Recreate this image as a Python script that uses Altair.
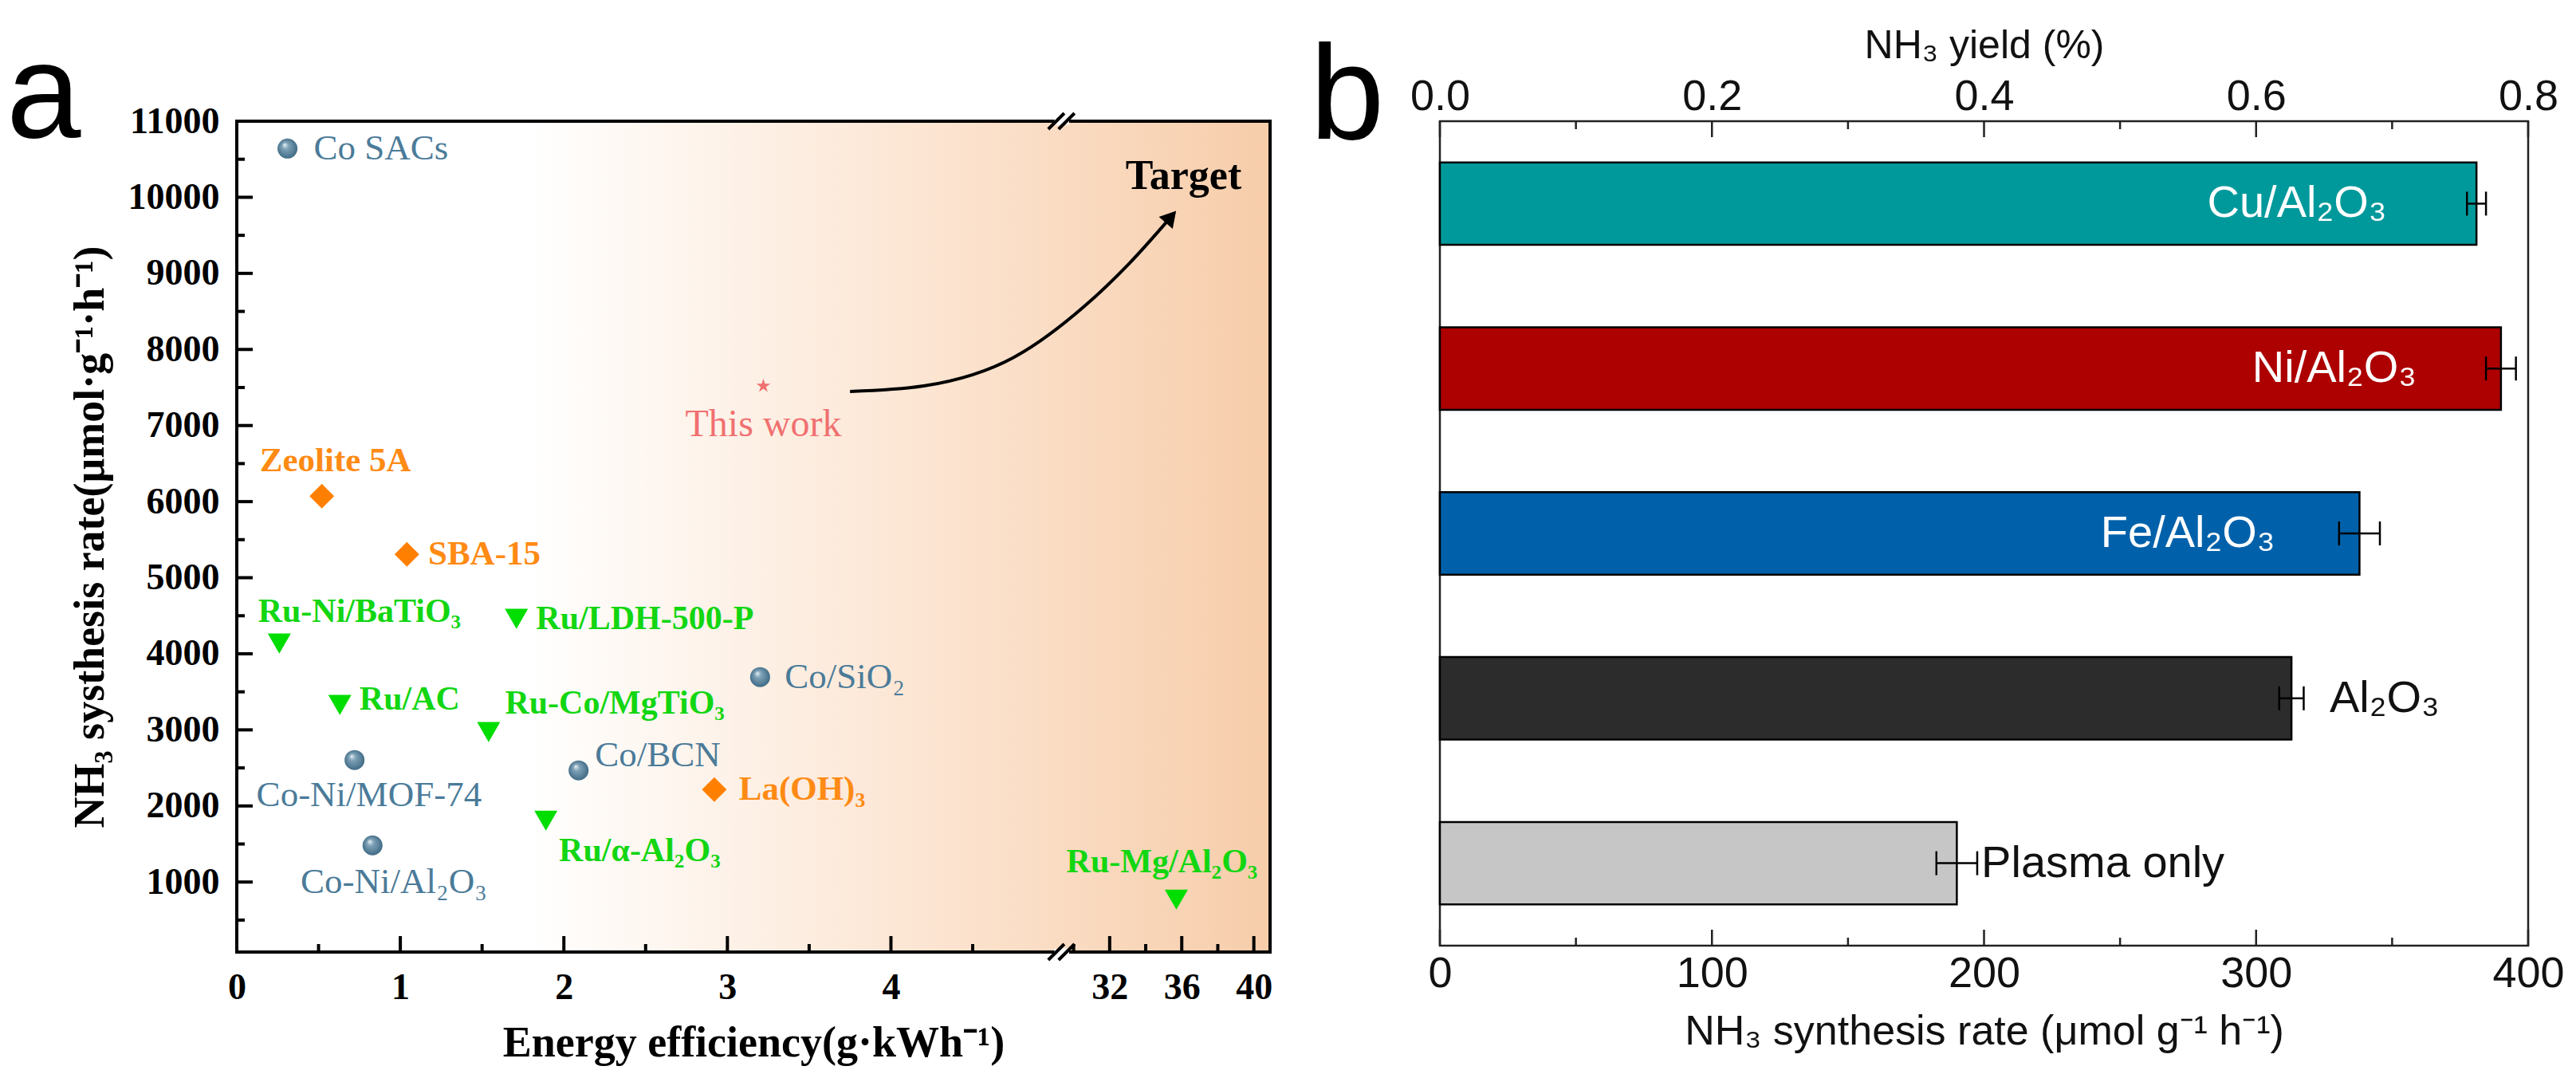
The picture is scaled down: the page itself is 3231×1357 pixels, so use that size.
import altair as alt
import pandas as pd

SERIF = "Liberation Serif"
SANS = "Liberation Sans"

# ---------------- Panel a: literature comparison ----------------
co_names = ["Co SACs", "Co-Ni/MOF-74", "Co-Ni/Al₂O₃", "Co/BCN", "Co/SiO₂"]
co_x = [0.31, 0.72, 0.83, 2.09, 3.20]
co_y = [10640, 2604, 1482, 2468, 3694]
co_label_x = [0.47, 0.12, 0.39, 2.19, 3.35]
co_label_y = [10640, 2143, 1000, 2667, 3694]

or_names = ["Zeolite 5A", "SBA-15", "La(OH)₃"]
or_x = [0.52, 1.04, 2.92]
or_y = [6073, 5308, 2216]
or_label_x = [0.14, 1.17, 3.07]
or_label_y = [6535, 5308, 2216]

ru_names = ["Ru-Ni/BaTiO₃", "Ru/LDH-500-P", "Ru/AC", "Ru-Co/MgTiO₃", "Ru/α-Al₂O₃", "Ru-Mg/Al₂O₃"]
ru_x = [0.26, 1.71, 0.63, 1.54, 1.89, 35.7]
ru_y = [4134, 4459, 3327, 2971, 1807, 769]
ru_label_x = [0.13, 1.83, 0.75, 1.64, 1.97, 29.6]
ru_label_y = [4553, 4459, 3400, 3348, 1409, 1262]

this_name = ["This work"]
this_x = [3.22]
this_y = [7520]
this_label_y = [7006]

target_text = ["Target"]
target_x = [36.1]
target_y = [10277]

arrow_x = [3.75, 4.20, 4.77, 30.6, 33.1, 35.4]
arrow_y = [7447, 7520, 7918, 8568, 9134, 9742]

# broken x axis: 0-5.04, then 29.3-40.9 compressed by BRK_K
BRK_L, BRK_R, X_END, BRK_K = 5.04, 29.3, 40.9, 0.1102
Y_MIN, Y_MAX = 80, 11000
A_W, A_H = 1296, 1042
a_x_major = [0, 1, 2, 3, 4, 32, 36, 40]
a_x_minor = [0.5, 1.5, 2.5, 3.5, 4.5, 30, 34, 38]
a_y_major = [1000 * i for i in range(1, 12)]
a_y_minor = [500 + 1000 * i for i in range(0, 11)]

break_x_start = [4.962, 5.025]
break_x_end = [29.48, 30.05]
break_lo_bottom, break_hi_bottom = -25, 185
break_lo_top, break_hi_top = 10895, 11105
gap_x = [5.0]
gap_x2 = [29.75]

# ---------------- Panel b: catalysts ----------------
bar_names = ["Cu/Al₂O₃", "Ni/Al₂O₃", "Fe/Al₂O₃", "Al₂O₃", "Plasma only"]
bar_rate = [381, 390, 338, 313, 190]
bar_err = [3.5, 5.5, 7.5, 4.5, 7.5]
bar_colors = ["#00999B", "#AD0000", "#0061AA", "#2C2C2C", "#C6C6C6"]
bar_label_x = [348, 359, 307, 327, 199]
bar_label_inside = [True, True, True, False, False]
B_W, B_H = 1365, 1034
b_major = [0, 100, 200, 300, 400]
b_minor = [50, 150, 250, 350]

MAJ, MIN = 20, 10  # inward tick lengths (px)
GAP = 213          # space between the two plot areas (px)
STAR = ("M0,-1L0.2245,-0.309L0.9511,-0.309L0.3633,0.118L0.5878,0.809L0,0.382"
        "L-0.5878,0.809L-0.3633,0.118L-0.9511,-0.309L-0.2245,-0.309Z")


def brk(v):
    return v if v <= BRK_L else BRK_L + (v - BRK_R) * BRK_K


def brk_expr(field):
    return f"datum.{field} <= {BRK_L} ? datum.{field} : {BRK_L} + (datum.{field} - {BRK_R}) * {BRK_K}"


X_DOM = [0, brk(X_END)]
inv_label = (f"datum.value <= {BRK_L + 1e-6} ? format(datum.value, 'd') : "
             f"format(round({BRK_R} + (datum.value - {BRK_L}) / {BRK_K}), 'd')")
Y_PER_PX = (Y_MAX - Y_MIN) / A_H

# ---------------- scales & axes ----------------
xs_a = alt.Scale(domain=X_DOM, nice=False, zero=False)
ys_a = alt.Scale(domain=[Y_MIN, Y_MAX], nice=False, zero=False)

x_axis_a = alt.Axis(
    orient="bottom", values=[brk(v) for v in a_x_major], labelExpr=inv_label,
    ticks=False, tickSize=0, domain=False, grid=False, labelOverlap=False, labelFlush=False,
    labelFont=SERIF, labelFontSize=46, labelFontWeight="bold", labelColor="black",
    labelPadding=22,
    title="Energy efficiency(g·kWh⁻¹)", titleFont=SERIF, titleFontSize=54,
    titleFontWeight="bold", titleColor="black", titlePadding=20,
)
y_axis_a = alt.Axis(
    orient="left", values=a_y_major, format="d",
    ticks=False, tickSize=0, domain=False, grid=False, labelOverlap=False, labelFlush=False,
    labelFont=SERIF, labelFontSize=46, labelFontWeight="bold", labelColor="black",
    labelPadding=22,
    title="NH₃ systhesis rate(μmol·g⁻¹·h⁻¹)", titleFont=SERIF, titleFontSize=54,
    titleFontWeight="bold", titleColor="black", titlePadding=20,
)


def base(df, xf, yf, xaxis=None, yaxis=None, x2f=None):
    ch = alt.Chart(df).transform_calculate(px=brk_expr(xf))
    enc = {
        "x": alt.X("px:Q", scale=xs_a, axis=xaxis),
        "y": alt.Y(f"{yf}:Q", scale=ys_a, axis=yaxis),
    }
    if x2f is not None:
        ch = ch.transform_calculate(px2=brk_expr(x2f))
        enc["x2"] = "px2:Q"
    return ch, enc


one = pd.DataFrame({"k": [0]})
bg_grad = alt.LinearGradient(
    gradient="linear", x1=0, x2=1, y1=0, y2=0,
    stops=[alt.GradientStop(offset=0, color="#FFFFFF"),
           alt.GradientStop(offset=0.28, color="#FFFFFF"),
           alt.GradientStop(offset=0.65, color="#FCE6D4"),
           alt.GradientStop(offset=1, color="#F7CDAA")],
)
sphere_fill = alt.RadialGradient(
    gradient="radial", x1=0.35, y1=0.3, r1=0, x2=0.5, y2=0.5, r2=0.55,
    stops=[alt.GradientStop(offset=0, color="#EEF4F7"),
           alt.GradientStop(offset=0.3, color="#7FA3B8"),
           alt.GradientStop(offset=1, color="#3A6580")],
)


def full_rect(**mark):
    return alt.Chart(one).mark_rect(**mark).encode(
        x=alt.datum(X_DOM[0], scale=xs_a, axis=None), x2=alt.datum(X_DOM[1]),
        y=alt.datum(Y_MIN, scale=ys_a, axis=None), y2=alt.datum(Y_MAX))


bg = full_rect(fill=bg_grad)
frame_a = full_rect(fillOpacity=0, stroke="black", strokeWidth=4)

co_df = pd.DataFrame({"n": co_names, "x": co_x, "y": co_y, "lx": co_label_x, "ly": co_label_y})
or_df = pd.DataFrame({"n": or_names, "x": or_x, "y": or_y, "lx": or_label_x, "ly": or_label_y})
ru_df = pd.DataFrame({"n": ru_names, "x": ru_x, "y": ru_y, "lx": ru_label_x, "ly": ru_label_y})
tw_df = pd.DataFrame({"n": this_name, "x": this_x, "y": this_y, "ly": this_label_y})
tg_df = pd.DataFrame({"n": target_text, "x": target_x, "y": target_y})
ar_df = pd.DataFrame({"i": list(range(len(arrow_x))), "x": arrow_x, "y": arrow_y})
ah_df = ar_df.tail(1).reset_index(drop=True)

# inward ticks, positioned through the scales
ytick_df = pd.DataFrame({"v": a_y_major + a_y_minor,
                         "len": [MAJ] * len(a_y_major) + [MIN] * len(a_y_minor)})
ytick_df["x0"] = 0.0
ytick_df["x1"] = ytick_df["len"] * X_DOM[1] / A_W
yticks_a = alt.Chart(ytick_df).mark_rule(color="black", strokeWidth=4).encode(
    x=alt.X("x0:Q", scale=xs_a, axis=None), x2="x1:Q",
    y=alt.Y("v:Q", scale=ys_a, axis=None))
xtick_df = pd.DataFrame({"v": a_x_major + a_x_minor,
                         "len": [MAJ] * len(a_x_major) + [MIN] * len(a_x_minor)})
xtick_df["y0"] = Y_MIN
xtick_df["y1"] = Y_MIN + xtick_df["len"] * Y_PER_PX
ch, enc = base(xtick_df, "v", "y0")
xticks_a = ch.mark_rule(color="black", strokeWidth=4).encode(y2="y1:Q", **enc)

ch, enc = base(co_df, "x", "y", x_axis_a, y_axis_a)
co_pts = ch.mark_point(shape="circle", filled=True, fill=sphere_fill, size=625,
                       opacity=1, strokeWidth=0).encode(**enc)
ch, enc = base(or_df, "x", "y")
or_pts = ch.mark_point(shape="diamond", filled=True, color="#FF8000", size=960,
                       opacity=1).encode(**enc)
ch, enc = base(ru_df, "x", "y")
ru_pts = ch.mark_point(shape="triangle-down", filled=True, color="#00DD00", size=840,
                       opacity=1).encode(**enc)
ch, enc = base(tw_df, "x", "y")
tw_pt = ch.mark_point(shape=STAR, filled=True, color="#F07070", size=340,
                      opacity=1).encode(**enc)


def labels(df, color, weight, size, align="left", xfield="lx", yfield="ly"):
    ch, enc = base(df, xfield, yfield)
    return ch.mark_text(align=align, baseline="middle", font=SERIF, fontSize=size,
                        fontWeight=weight, color=color).encode(text="n:N", **enc)


co_txt = labels(co_df, "#4B7B99", "normal", 45)
or_txt = labels(or_df, "#FF8A14", "bold", 43)
ru_txt = labels(ru_df, "#12D612", "bold", 42)
tw_txt = labels(tw_df, "#F07070", "normal", 48, align="center", xfield="x")
tg_txt = labels(tg_df, "black", "bold", 52, align="center", xfield="x", yfield="y")

ch, enc = base(ar_df, "x", "y")
curve = ch.mark_line(interpolate="monotone", color="black", strokeWidth=4).encode(
    order="i:Q", **enc)
ch, enc = base(ah_df, "x", "y")
head = ch.mark_point(shape="triangle-up", filled=True, color="black", size=520,
                     angle=41, opacity=1).encode(**enc)

gap_df = pd.DataFrame({"x": gap_x * 2, "x2": gap_x2 * 2, "y": [Y_MIN, Y_MAX]})
ch, enc = base(gap_df, "x", "y", x2f="x2")
gap = ch.mark_rule(color="white", strokeWidth=9).encode(**enc)
sl_df = pd.DataFrame({
    "x": break_x_start * 2, "x2": break_x_end * 2,
    "y": [break_lo_bottom] * 2 + [break_lo_top] * 2,
    "y2": [break_hi_bottom] * 2 + [break_hi_top] * 2,
})
ch, enc = base(sl_df, "x", "y", x2f="x2")
slashes = ch.mark_rule(color="black", strokeWidth=4).encode(y2="y2:Q", **enc)

letter_a = alt.Chart(one).mark_text(text="a", font=SANS, fontSize=168, align="left",
                                    baseline="alphabetic", color="black").encode(
    x=alt.value(-289), y=alt.value(20))

panel_a = alt.layer(
    bg, frame_a, yticks_a, xticks_a, co_pts, or_pts, ru_pts, tw_pt, co_txt, or_txt, ru_txt,
    tw_txt, tg_txt, curve, head, gap, slashes, letter_a,
).resolve_axis(x="independent", y="independent").properties(
    width=A_W, height=A_H, view=alt.ViewBackground(strokeOpacity=0))

# ---------------- Panel b ----------------
b_df = pd.DataFrame({
    "cat": bar_names, "rate": bar_rate,
    "lo": [r - e for r, e in zip(bar_rate, bar_err)],
    "hi": [r + e for r, e in zip(bar_rate, bar_err)],
    "lx": bar_label_x, "inside": bar_label_inside,
})
xs_b = alt.Scale(domain=[0, 400], nice=False, zero=True)
ys_b = alt.Scale(domain=bar_names, paddingInner=0.5, paddingOuter=0.25)
Yb = alt.Y("cat:N", sort=bar_names, scale=ys_b, axis=None)

x_axis_b = alt.Axis(
    orient="bottom", values=b_major, format="d",
    ticks=False, tickSize=0, domain=False, grid=False, labelOverlap=False, labelFlush=False,
    labelFont=SANS, labelFontSize=54, labelColor="#111111", labelPadding=8,
    title="NH₃ synthesis rate (μmol g⁻¹ h⁻¹)", titleFont=SANS, titleFontSize=52,
    titleFontWeight="normal", titleColor="#111111", titlePadding=20,
)
x_axis_b_top = alt.Axis(
    orient="top", values=b_major, labelExpr="format(datum.value * 0.002, '.1f')",
    ticks=False, tickSize=0, domain=False, grid=False, labelOverlap=False, labelFlush=False,
    labelFont=SANS, labelFontSize=54, labelColor="#111111", labelPadding=4,
    title="NH₃ yield (%)", titleFont=SANS, titleFontSize=50,
    titleFontWeight="normal", titleColor="#111111", titlePadding=12,
)

bars = alt.Chart(b_df).mark_bar(stroke="black", strokeWidth=2.5, opacity=1).encode(
    x=alt.X("rate:Q", scale=xs_b, axis=x_axis_b),
    y=Yb,
    color=alt.Color("cat:N", scale=alt.Scale(domain=bar_names, range=bar_colors), legend=None),
)
top_axis = alt.Chart(b_df).mark_point(opacity=0).encode(
    x=alt.X("rate:Q", scale=xs_b, axis=x_axis_b_top), y=Yb)


def bticks(vals, y0, y1):
    return alt.Chart(pd.DataFrame({"v": vals})).mark_rule(
        color="#222222", strokeWidth=2.5).encode(
        x=alt.X("v:Q", scale=xs_b, axis=None), y=alt.value(y0), y2=alt.value(y1))


bt1 = bticks(b_major, B_H, B_H - MAJ)
bt2 = bticks(b_minor, B_H, B_H - MIN)
bt3 = bticks(b_major, 0, MAJ)
bt4 = bticks(b_minor, 0, MIN)

err_rule = alt.Chart(b_df).mark_rule(color="black", strokeWidth=2.5).encode(
    x=alt.X("lo:Q", scale=xs_b, axis=None), x2="hi:Q", y=Yb)
err_lo = alt.Chart(b_df).mark_tick(color="black", thickness=2.5, size=30, opacity=1).encode(
    x=alt.X("lo:Q", scale=xs_b, axis=None), y=Yb)
err_hi = alt.Chart(b_df).mark_tick(color="black", thickness=2.5, size=30, opacity=1).encode(
    x=alt.X("hi:Q", scale=xs_b, axis=None), y=Yb)
txt_in = alt.Chart(b_df).transform_filter("datum.inside").mark_text(
    align="right", baseline="middle", font=SANS, fontSize=56, color="white").encode(
    x=alt.X("lx:Q", scale=xs_b, axis=None), y=Yb, text="cat:N")
txt_out = alt.Chart(b_df).transform_filter("!datum.inside").mark_text(
    align="left", baseline="middle", font=SANS, fontSize=56, color="#111111").encode(
    x=alt.X("lx:Q", scale=xs_b, axis=None), y=Yb, text="cat:N")
letter_b = alt.Chart(one).mark_text(text="b", font=SANS, fontSize=168, align="left",
                                    baseline="alphabetic", color="black").encode(
    x=alt.value(-163), y=alt.value(22))

panel_b = alt.layer(
    bars, top_axis, bt1, bt2, bt3, bt4, err_rule, err_lo, err_hi, txt_in, txt_out, letter_b,
).resolve_axis(x="independent").properties(
    width=B_W, height=B_H,
    view=alt.ViewBackground(stroke="#222222", strokeWidth=2.5),
)

# fixed layout: plot areas placed directly, independent of text extents
PAGE_W, PAGE_H = 3231 - 16, 1357 - 16
LEFT, TOP = 289, 144
chart = alt.hconcat(panel_a, panel_b, spacing=GAP, bounds="flush").properties(
    autosize=alt.AutoSizeParams(type="none"),
    padding={"left": LEFT, "top": TOP, "right": PAGE_W - LEFT, "bottom": PAGE_H - TOP},
    background="white",
)

chart.save("out.html", embed_options={"renderer": "svg", "actions": False})
